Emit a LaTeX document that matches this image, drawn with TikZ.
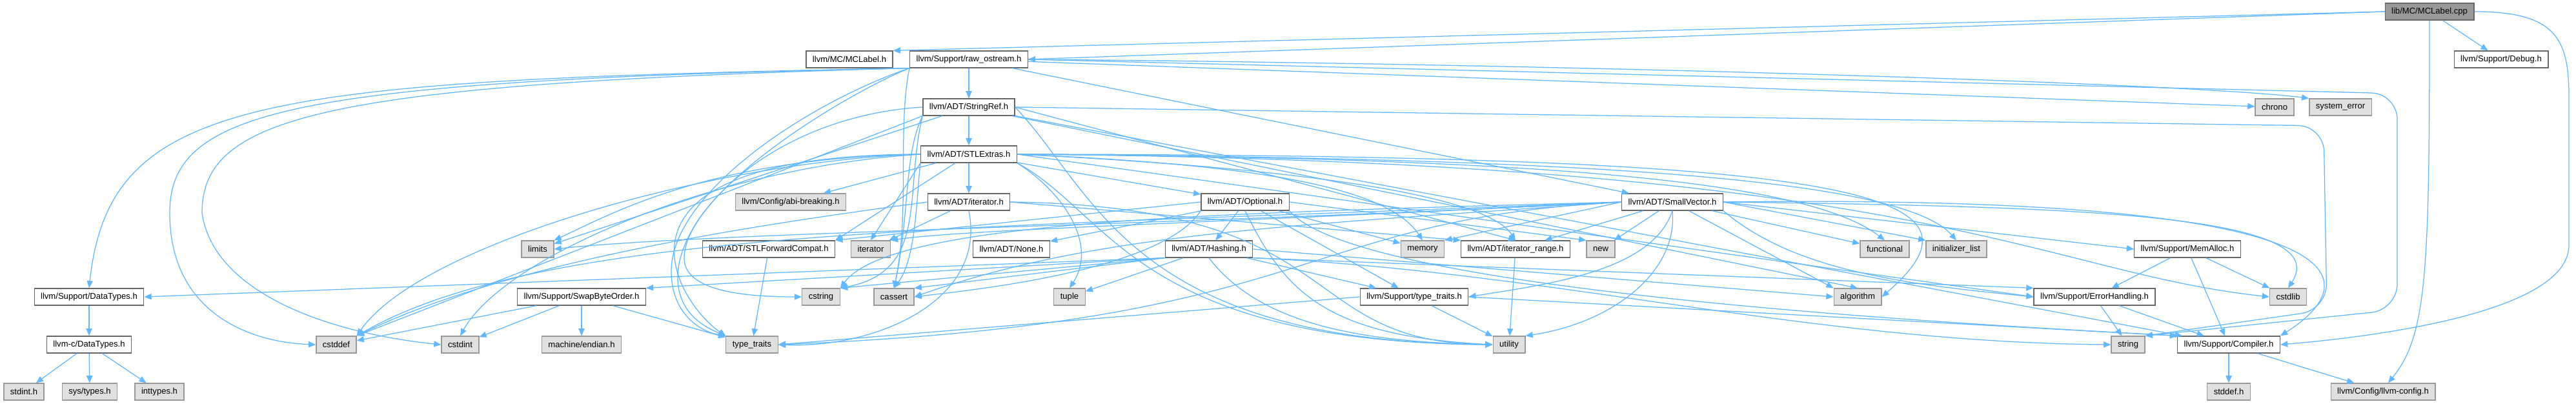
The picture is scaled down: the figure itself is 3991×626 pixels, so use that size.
\documentclass[tikz,border=0pt]{standalone}
\usepackage{fontspec}
\setmainfont{Liberation Sans}
\usetikzlibrary{arrows.meta}
\definecolor{EdgeBlue}{RGB}{99,184,255}
\definecolor{NodeLine}{RGB}{102,102,102}
\definecolor{SysFill}{RGB}{224,224,224}
\definecolor{SysLine}{RGB}{153,153,153}
\definecolor{RootFill}{RGB}{153,153,153}

\begin{document}
\begin{tikzpicture}[x=0.25mm, y=-0.25mm,
      every node/.style={font=\fontsize{9.3}{11}\selectfont, inner xsep=2.5mm, inner ysep=0pt, minimum height=6.5mm},
      box/.style={draw, rectangle, line width=0.9pt},
      hdr/.style={box, fill=white, draw=NodeLine},
      sys/.style={box, fill=SysFill, draw=SysLine},
      root/.style={box, fill=RootFill, draw=NodeLine},
      dep/.style={-{Triangle[length=2.8mm, width=2.3mm]}, draw=EdgeBlue, line width=0.9pt}
  ]
    \fill[white] (0,0) rectangle (3991,626);
    \useasboundingbox (0,0) rectangle (3991,626);
    \node[root] (cpp) at (3764,18) {lib/MC/MCLabel.cpp};
    \node[hdr] (mclabel) at (1316,92) {llvm/MC/MCLabel.h};
    \node[hdr] (rawos) at (1501,92) {llvm/Support/raw\_ostream.h};
    \node[hdr] (debug) at (3875,92) {llvm/Support/Debug.h};
    \node[hdr] (strref) at (1501,166) {llvm/ADT/StringRef.h};
    \node[sys] (chrono) at (3524,166) {chrono};
    \node[sys] (syserr) at (3626,166) {system\_error};
    \node[hdr] (stlext) at (1501,239) {llvm/ADT/STLExtras.h};
    \node[sys] (abibrk) at (1225,313) {llvm/Config/abi-breaking.h};
    \node[hdr] (itrh) at (1501,313) {llvm/ADT/iterator.h};
    \node[hdr] (optnl) at (1929,313) {llvm/ADT/Optional.h};
    \node[hdr] (smvec) at (2591,313) {llvm/ADT/SmallVector.h};
    \node[sys] (limits) at (833,386) {limits};
    \node[hdr] (stlfwd) at (1191,386) {llvm/ADT/STLForwardCompat.h};
    \node[sys] (iter) at (1349,386) {iterator};
    \node[hdr] (none) at (1567,386) {llvm/ADT/None.h};
    \node[hdr] (hash) at (1873,386) {llvm/ADT/Hashing.h};
    \node[sys] (memory) at (2204,386) {memory};
    \node[hdr] (itrange) at (2348,386) {llvm/ADT/iterator\_range.h};
    \node[sys] (cnew) at (2480,386) {new};
    \node[sys] (func) at (2920,386) {functional};
    \node[sys] (initl) at (3031,386) {initializer\_list};
    \node[hdr] (memal) at (3389,386) {llvm/Support/MemAlloc.h};
    \node[hdr] (dtypes) at (138,460) {llvm/Support/DataTypes.h};
    \node[hdr] (swapb) at (901,460) {llvm/Support/SwapByteOrder.h};
    \node[sys] (cstring) at (1272,460) {cstring};
    \node[sys] (cassert) at (1385,460) {cassert};
    \node[sys] (tuple) at (1657,460) {tuple};
    \node[hdr] (ttraitsh) at (2191,460) {llvm/Support/type\_traits.h};
    \node[sys] (algo) at (2878,460) {algorithm};
    \node[hdr] (errh) at (3245,460) {llvm/Support/ErrorHandling.h};
    \node[sys] (cstdlib) at (3545,460) {cstdlib};
    \node[hdr] (cdtypes) at (138,534) {llvm-c/DataTypes.h};
    \node[sys] (cstddef) at (521,534) {cstddef};
    \node[sys] (cstdint) at (713,534) {cstdint};
    \node[sys] (endian) at (901,534) {machine/endian.h};
    \node[sys] (ttraits) at (1165,534) {type\_traits};
    \node[sys] (utility) at (2338,534) {utility};
    \node[sys] (cstr) at (3297,534) {string};
    \node[hdr] (compiler) at (3453,534) {llvm/Support/Compiler.h};
    \node[sys] (stdint) at (37,607) {stdint.h};
    \node[sys] (systypes) at (139,607) {sys/types.h};
    \node[sys] (inttypes) at (247,607) {inttypes.h};
    \node[sys] (stddef) at (3453,607) {stddef.h};
    \node[sys] (llvmcfg) at (3692,607) {llvm/Config/llvm-config.h};
    \draw[dep] (cpp.west) -- (mclabel.north east);
    \draw[dep] (cpp.west) -- (rawos.east);
    \draw[dep] (cpp) -- (debug);
    \draw[dep] (cpp.east) .. controls (3960,18) and (3980,60) .. (3980,150) -- (3980,380) .. controls (3980,480) and (3700,520) .. (compiler.east);
    \draw[dep] (cpp.south) .. controls (3764,420) and (3760,520) .. (llvmcfg.60);
    \draw[dep] (rawos) -- (strref);
    \draw[dep] (rawos) -- (smvec);
    \draw[dep] (rawos) -- (chrono);
    \draw[dep] (rawos.east) .. controls (2500,100) and (3400,130) .. (syserr.north west);
    \draw[dep, rounded corners=10mm] (rawos.east) -- (3714,145) -- (3714,480) -- (cstr.north east);
    \draw[dep] (rawos.south west) .. controls (400,125) and (170,150) .. (dtypes.north);
    \draw[dep] (rawos.south west) .. controls (450,125) and (263,170) .. (263,330) .. controls (263,480) and (380,530) .. (cstddef.west);
    \draw[dep] (rawos.south west) .. controls (500,130) and (313,180) .. (313,330) .. controls (330,450) and (500,515) .. (cstdint.west);
    \draw[dep] (rawos.south west) .. controls (1390,200) and (1410,330) .. (cassert.north);
    \draw[dep] (rawos.south west) .. controls (1300,150) and (1060,300) .. (1060,400) .. controls (1060,450) and (1150,460) .. (cstring.west);
    \draw[dep] (rawos.south west) .. controls (1250,160) and (1040,300) .. (1040,420) .. controls (1040,490) and (1090,515) .. (ttraits.north west);
    \draw[dep] (strref) -- (stlext);
    \draw[dep] (strref.east) -- (itrange.north);
    \draw[dep] (strref) -- (compiler);
    \draw[dep] (strref) -- (algo.north);
    \draw[dep] (strref.south west) .. controls (1400,240) and (1410,330) .. (cassert.north);
    \draw[dep] (strref.south west) -- (cstddef.north east);
    \draw[dep] (strref.south west) .. controls (1400,300) and (1440,420) .. (cstring.north east);
    \draw[dep] (strref) -- (limits);
    \draw[dep, rounded corners=10mm] (strref.east) -- (3600,195) -- (3605,480) -- (cstr.north east);
    \draw[dep] (strref.west) .. controls (1200,180) and (1050,330) .. (1050,430) .. controls (1050,490) and (1100,510) .. (ttraits.north west);
    \draw[dep] (strref.east) .. controls (1700,300) and (1750,530) .. (utility.west);
    \draw[dep] (stlext) -- (optnl);
    \draw[dep] (stlext) -- (stlfwd.north east);
    \draw[dep] (stlext) -- (itrh);
    \draw[dep] (stlext.east) .. controls (2000,260) and (2300,300) .. (itrange.north);
    \draw[dep] (stlext) -- (abibrk);
    \draw[dep] (stlext.east) -- (errh.west);
    \draw[dep] (stlext.east) .. controls (2900,240) and (3100,300) .. (algo.east);
    \draw[dep] (stlext.south west) .. controls (1420,300) and (1420,400) .. (cassert.north);
    \draw[dep] (stlext.west) .. controls (1100,250) and (650,380) .. (cstddef.north east);
    \draw[dep] (stlext.west) .. controls (1100,260) and (780,400) .. (cstdint.north);
    \draw[dep] (stlext.east) .. controls (3000,250) and (3150,420) .. (cstdlib.west);
    \draw[dep] (stlext.east) .. controls (2400,245) and (2800,280) .. (func.north);
    \draw[dep] (stlext.east) .. controls (2500,245) and (2950,280) .. (initl.north);
    \draw[dep] (stlext.south west) -- (iter.north);
    \draw[dep] (stlext.west) .. controls (1100,245) and (950,330) .. (limits.north east);
    \draw[dep] (stlext.east) .. controls (1950,255) and (2150,290) .. (memory.north);
    \draw[dep] (stlext.south east) .. controls (1650,300) and (1700,380) .. (tuple.north);
    \draw[dep] (stlext.west) .. controls (900,240) and (1050,470) .. (ttraits.north west);
    \draw[dep] (stlext.south east) .. controls (1720,330) and (1760,530) .. (utility.west);
    \draw[dep] (itrh.east) -- (itrange.north west);
    \draw[dep] (itrh.west) .. controls (1200,345) and (800,400) .. (cstddef.north east);
    \draw[dep] (itrh) -- (iter);
    \draw[dep] (itrh.south) .. controls (1530,470) and (1350,540) .. (ttraits.east);
    \draw[dep] (itrh.east) .. controls (2100,320) and (2000,530) .. (utility.west);
    \draw[dep] (optnl) -- (hash);
    \draw[dep] (optnl) -- (none);
    \draw[dep] (optnl.west) -- (stlfwd.north east);
    \draw[dep] (optnl.south east) .. controls (2100,450) and (3000,500) .. (compiler.north west);
    \draw[dep] (optnl) -- (ttraitsh);
    \draw[dep] (optnl.south west) .. controls (1800,420) and (1500,450) .. (cassert.east);
    \draw[dep] (optnl) -- (memory);
    \draw[dep] (optnl.east) -- (cnew.north west);
    \draw[dep] (optnl.south) .. controls (1990,450) and (2050,520) .. (utility.west);
    \draw[dep] (hash.south west) -- (dtypes.east);
    \draw[dep] (hash.south east) -- (errh.north west);
    \draw[dep] (hash.south west) -- (swapb.north east);
    \draw[dep] (hash) -- (ttraitsh);
    \draw[dep] (hash.east) -- (algo.west);
    \draw[dep] (hash.south west) -- (cassert.north east);
    \draw[dep] (hash.south west) -- (cstring.north east);
    \draw[dep] (hash.south east) .. controls (2400,420) and (2800,530) .. (cstr.west);
    \draw[dep] (hash) -- (tuple);
    \draw[dep] (hash.south) .. controls (1950,500) and (2100,530) .. (utility.west);
    \draw[dep] (swapb) -- (cstddef);
    \draw[dep] (swapb) -- (cstdint);
    \draw[dep] (swapb) -- (endian);
    \draw[dep] (swapb) -- (ttraits);
    \draw[dep] (dtypes) -- (cdtypes);
    \draw[dep] (cdtypes) -- (stdint);
    \draw[dep] (cdtypes) -- (systypes);
    \draw[dep] (cdtypes) -- (inttypes);
    \draw[dep] (ttraitsh.east) -- (compiler.north west);
    \draw[dep] (ttraitsh.west) -- (ttraits.east);
    \draw[dep] (ttraitsh) -- (utility);
    \draw[dep] (itrange) -- (utility);
    \draw[dep] (stlfwd) -- (ttraits);
    \draw[dep] (errh) -- (compiler);
    \draw[dep] (errh) -- (cstr);
    \draw[dep] (compiler) -- (stddef);
    \draw[dep] (compiler) -- (llvmcfg);
    \draw[dep] (memal) -- (compiler);
    \draw[dep] (memal) -- (errh);
    \draw[dep] (memal) -- (cstdlib);
    \draw[dep] (smvec) -- (itrange);
    \draw[dep] (smvec.east) .. controls (3700,300) and (3660,440) .. (compiler.north east);
    \draw[dep] (smvec.south east) .. controls (2780,420) and (2950,440) .. (errh.west);
    \draw[dep] (smvec.east) -- (memal.west);
    \draw[dep] (smvec.south) .. controls (2560,420) and (2400,440) .. (ttraitsh.east);
    \draw[dep] (smvec) -- (algo.north west);
    \draw[dep] (smvec.west) .. controls (2000,350) and (1700,360) .. (cassert.east);
    \draw[dep] (smvec.west) .. controls (1500,355) and (850,350) .. (cstddef.north east);
    \draw[dep] (smvec.east) .. controls (3200,320) and (3620,330) .. (cstdlib.north);
    \draw[dep] (smvec.west) .. controls (1900,330) and (1380,340) .. (cstring.north east);
    \draw[dep] (smvec) -- (func);
    \draw[dep] (smvec.east) -- (initl.north west);
    \draw[dep] (smvec.west) .. controls (1900,345) and (1500,355) .. (iter.north east);
    \draw[dep] (smvec.west) .. controls (1800,350) and (1100,360) .. (limits.east);
    \draw[dep] (smvec.west) -- (memory.north east);
    \draw[dep] (smvec) -- (cnew);
    \draw[dep] (smvec.west) .. controls (2000,340) and (2050,500) .. (ttraits.east);
    \draw[dep] (smvec.south) .. controls (2600,420) and (2500,500) .. (utility.north east);
  \end{tikzpicture}
\end{document}
